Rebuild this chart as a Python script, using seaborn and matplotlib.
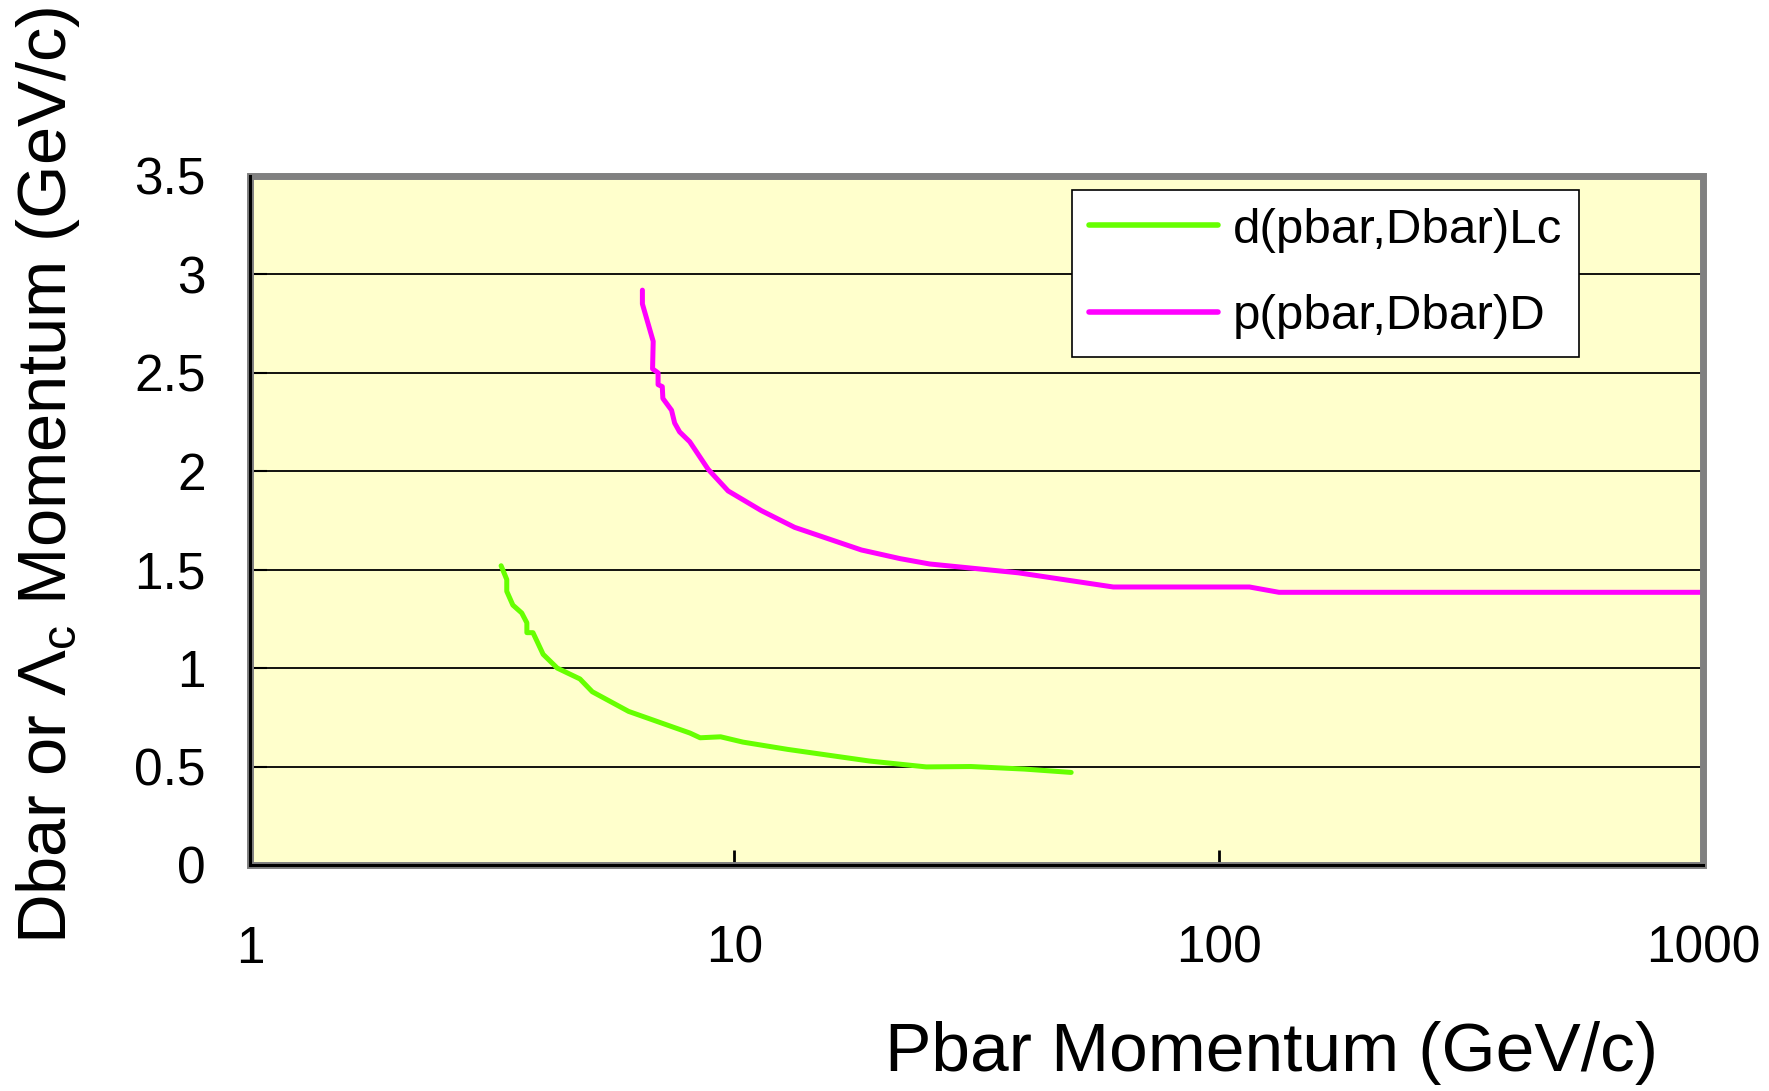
import matplotlib
matplotlib.use("Agg")
import matplotlib.pyplot as plt
import seaborn as sns
import pandas as pd
from matplotlib.patches import Rectangle
from matplotlib.ticker import FixedLocator, FixedFormatter, NullLocator

# ---- data ----
green_label = "d(pbar,Dbar)Lc"
green_x = [3.30, 3.39, 3.39, 3.49, 3.64, 3.73, 3.73, 3.84, 4.03, 4.31, 4.80, 5.09,
           6.05, 8.10, 8.50, 9.37, 10.42, 12.89, 19.0, 24.9, 30.8, 39.7, 49.6]
green_y = [1.52, 1.45, 1.39, 1.32, 1.28, 1.23, 1.18, 1.18, 1.07, 1.00, 0.945, 0.88,
           0.78, 0.67, 0.646, 0.651, 0.624, 0.587, 0.528, 0.498, 0.500, 0.487, 0.470]

magenta_label = "p(pbar,Dbar)D"
magenta_x = [6.46, 6.46, 6.80, 6.78, 6.96, 6.96, 7.10, 7.12, 7.42, 7.53, 7.71, 8.09,
             8.83, 9.71, 11.37, 13.32, 18.3, 22.0, 25.3, 38.6, 60.6, 115.8, 133.2, 1000.0]
magenta_y = [2.92, 2.85, 2.66, 2.52, 2.50, 2.44, 2.43, 2.37, 2.31, 2.245, 2.20, 2.15,
             2.01, 1.90, 1.80, 1.715, 1.60, 1.556, 1.529, 1.484, 1.412, 1.412, 1.385, 1.385]

x_ticks = [1, 10, 100, 1000]
x_tick_labels = ["1", "10", "100", "1000"]
y_ticks = [0, 0.5, 1, 1.5, 2, 2.5, 3, 3.5]
y_tick_labels = ["0", "0.5", "1", "1.5", "2", "2.5", "3", "3.5"]

df = pd.concat([
    pd.DataFrame({"x": green_x, "y": green_y, "series": green_label}),
    pd.DataFrame({"x": magenta_x, "y": magenta_y, "series": magenta_label}),
], ignore_index=True)

# ---- style ----
sns.set_style("white")
plt.rcParams["font.family"] = ["Liberation Sans", "DejaVu Sans"]
plt.rcParams["mathtext.fontset"] = "custom"
plt.rcParams["mathtext.rm"] = "Liberation Sans"
plt.rcParams["mathtext.it"] = "Liberation Sans:italic"
plt.rcParams["text.color"] = "black"
plt.rcParams["xtick.color"] = "black"
plt.rcParams["ytick.color"] = "black"

fig = plt.figure(figsize=(17.69, 10.91), dpi=100)
ax = fig.add_axes([0.1413, 0.2072, 0.8214, 0.6315])
ax.set_facecolor("#FFFFCC")

palette = {green_label: "#66FF00", magenta_label: "#FF00FF"}
sns.lineplot(data=df, x="x", y="y", hue="series", palette=palette, sort=False,
             estimator=None, linewidth=3.6, ax=ax, legend=True)

ax.set_xscale("log")
ax.set_xlim(1, 1000)
ax.set_ylim(0, 3.5)

ax.xaxis.set_major_locator(FixedLocator(x_ticks))
ax.xaxis.set_major_formatter(FixedFormatter(x_tick_labels))
ax.xaxis.set_minor_locator(NullLocator())
ax.yaxis.set_major_locator(FixedLocator(y_ticks))
ax.yaxis.set_major_formatter(FixedFormatter(y_tick_labels))

ax.tick_params(axis="x", direction="in", length=11, width=2, colors="black",
               labelsize=37, pad=43, bottom=True)
ax.tick_params(axis="y", direction="in", length=12, width=1.5, colors="black",
               labelsize=37, pad=32, left=True)

# grid lines
ax.yaxis.grid(True, color="black", linewidth=1.3)
ax.xaxis.grid(False)
ax.set_axisbelow(True)

# frame: grey outer border, black left/bottom axes
for s in ["top", "right"]:
    ax.spines[s].set_visible(False)
for s in ["left", "bottom"]:
    ax.spines[s].set_color("black")
    ax.spines[s].set_linewidth(2.2)
    ax.spines[s].set_zorder(5)
ax.add_patch(Rectangle((0, 0), 1, 1, transform=ax.transAxes, fill=False,
                       edgecolor="#808080", linewidth=5, clip_on=False, zorder=4))

ax.set_xlabel("")
ax.set_ylabel("")
fig.text(0.719, 0.035, "Pbar Momentum (GeV/c)", fontsize=50, ha="center", va="center")
fig.text(0.027, 0.564, "Dbar or Λ$_\\mathrm{c}$ Momentum (GeV/c)", fontsize=49.5,
         rotation=90, ha="center", va="center")

# legend
leg = ax.legend(loc="upper left", bbox_to_anchor=(0.5655, 0.98), fontsize=35.5,
                frameon=True, fancybox=False, framealpha=1, edgecolor="black",
                handlelength=2.6, handletextpad=0.3, borderpad=0.36,
                labelspacing=0.84, borderaxespad=0)
leg.get_frame().set_linewidth(1.2)
for line in leg.get_lines():
    line.set_linewidth(4)

fig.savefig("out.png", dpi=100)
